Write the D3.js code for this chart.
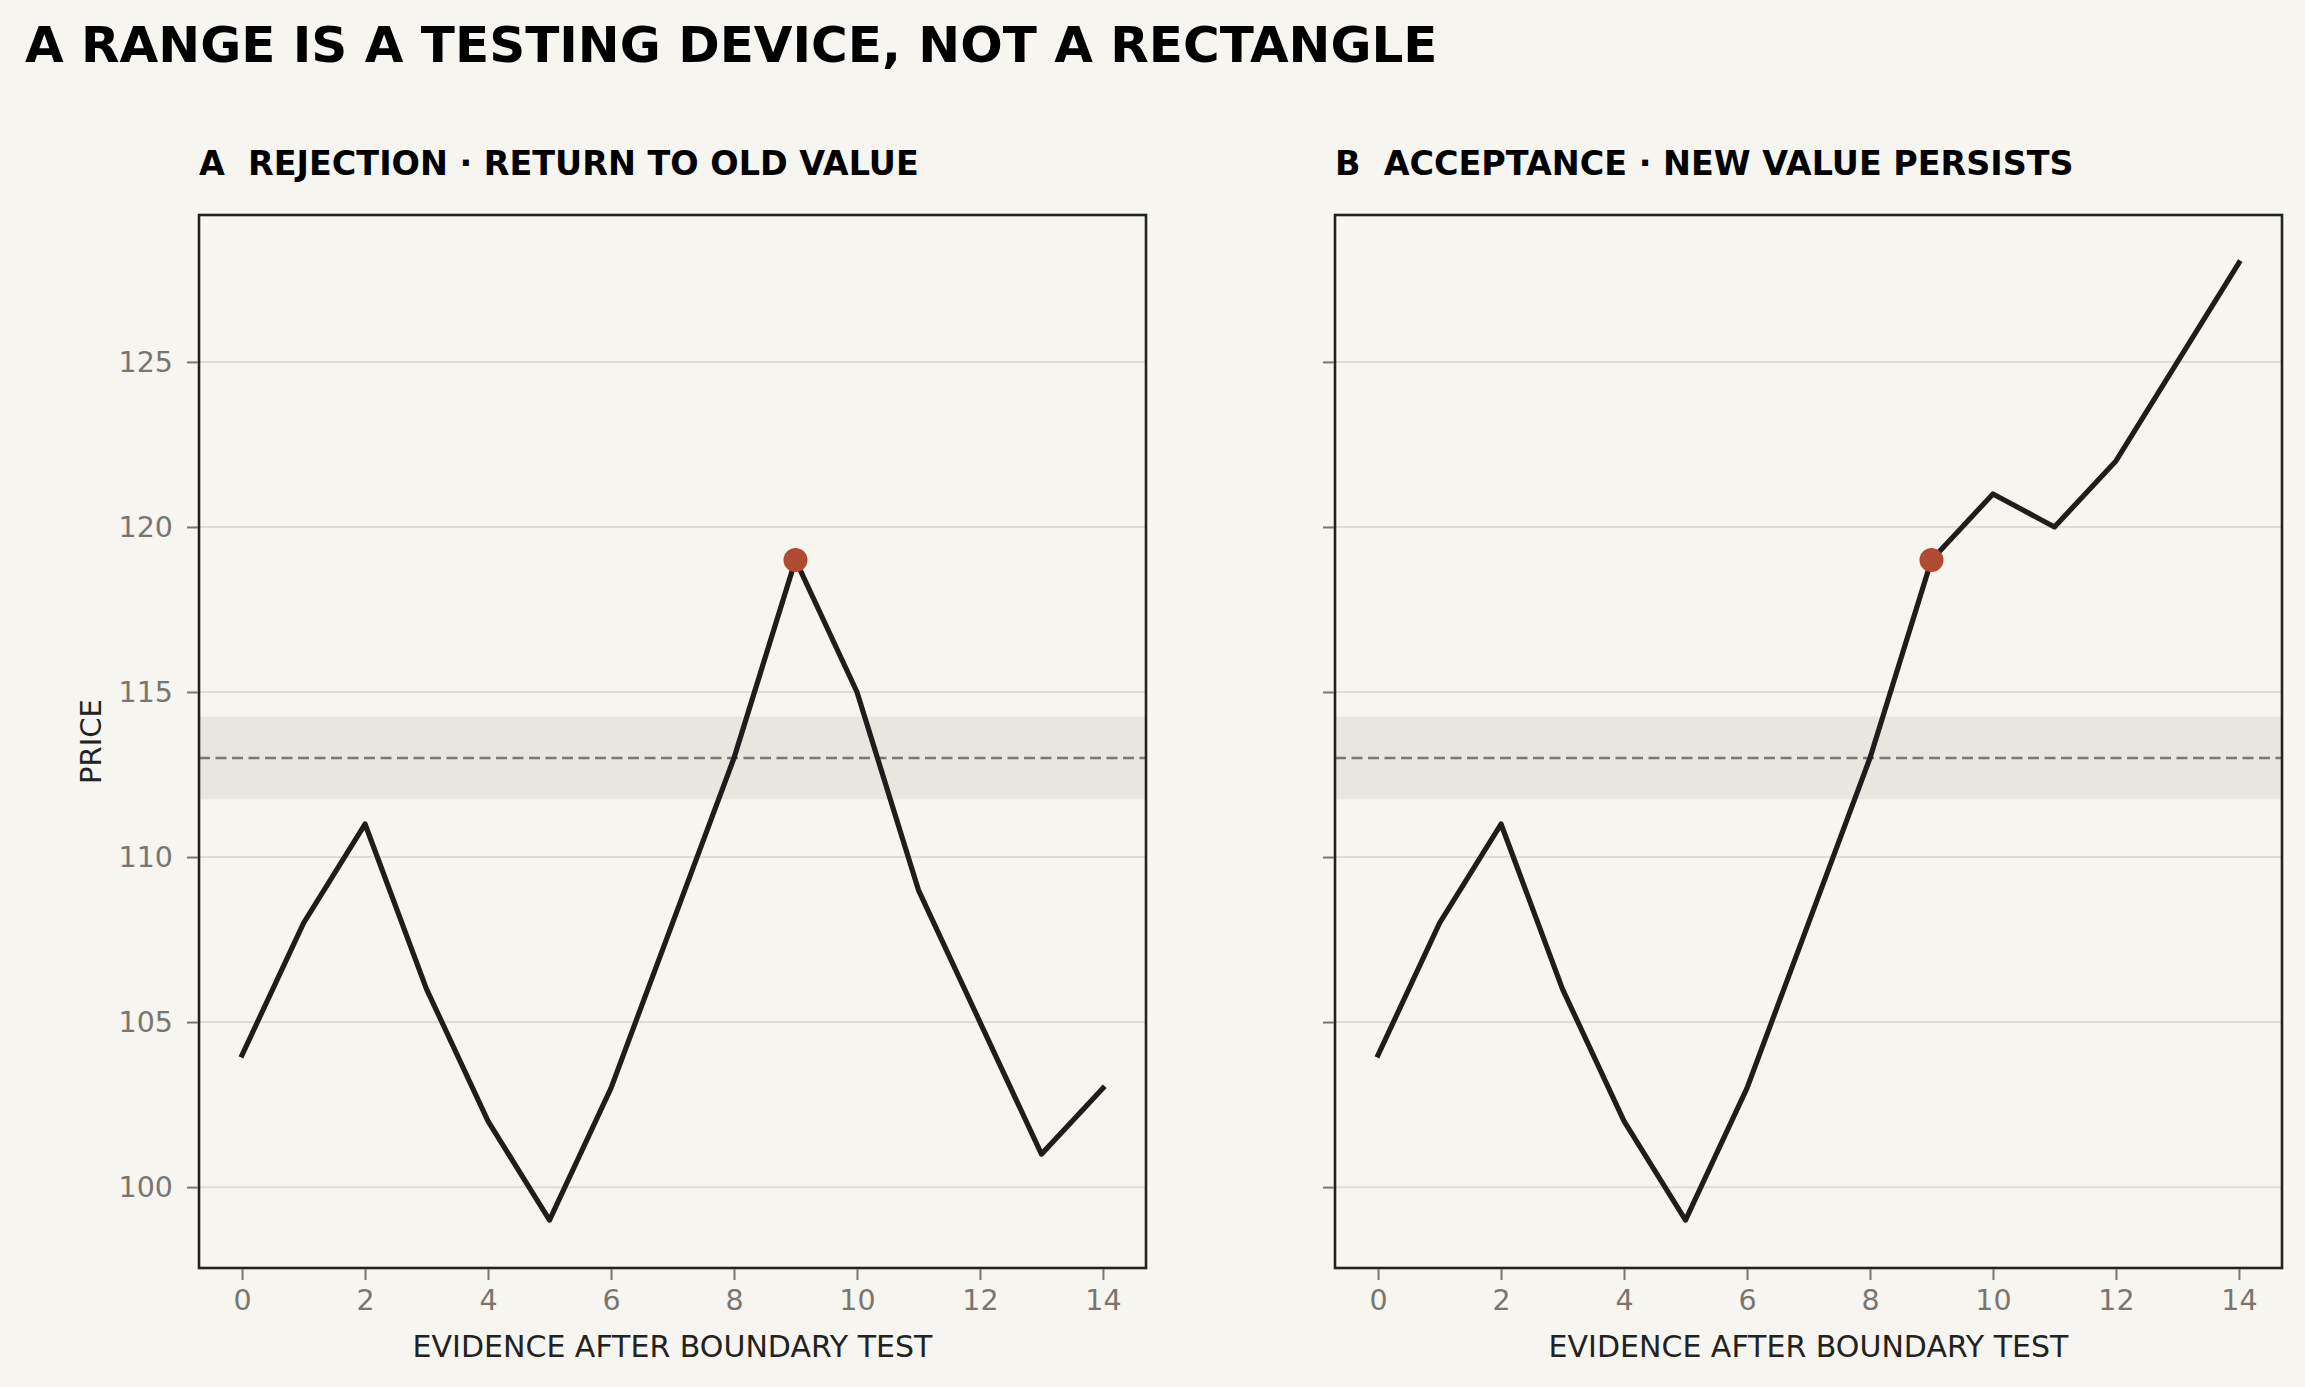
<!DOCTYPE html>
<html>
<head>
<meta charset="utf-8">
<script src="https://cdn.jsdelivr.net/npm/d3@7"></script>
<style>
  html, body { margin: 0; padding: 0; background: #f6f5f0; }
  svg { display: block; }
  text { font-family: "DejaVu Sans", sans-serif; white-space: pre; }
</style>
</head>
<body>
<svg id="chart" width="2305" height="1387"></svg>
<script>
// ---- data ----
const steps = [0, 1, 2, 3, 4, 5, 6, 7, 8, 9, 10, 11, 12, 13, 14];
const rejectionPrice = [104, 108, 111, 106, 102, 99, 103, 108, 113, 119, 115, 109, 105, 101, 103];
const acceptancePrice = [104, 108, 111, 106, 102, 99, 103, 108, 113, 119, 121, 120, 122, 125, 128];
const testStep = 9;
const boundaryLevel = 113;
const bandLow = 111.75;
const bandHigh = 114.25;
const xTicks = [0, 2, 4, 6, 8, 10, 12, 14];
const yTicks = [100, 105, 110, 115, 120, 125];
const panelTitles = ["A  REJECTION \u00b7 RETURN TO OLD VALUE", "B  ACCEPTANCE \u00b7 NEW VALUE PERSISTS"];
const mainTitle = "A RANGE IS A TESTING DEVICE, NOT A RECTANGLE";
const xLabel = "EVIDENCE AFTER BOUNDARY TEST";
const yLabel = "PRICE";

// ---- layout ----
const svg = d3.select("#chart");
const W = 2305, H = 1387;
const plotTop = 215, plotBottom = 1268;
const panelLefts = [199, 1335];
const panelWidth = 947;

const colors = {
  bg: "#f6f5f0", band: "#e9e5df", grid: "#dedcd7", frame: "#222220",
  line: "#1f1d1b", dash: "#7a7774", tick: "#7a7571", label: "#222", dot: "#b04b30"
};

svg.append("rect").attr("width", W).attr("height", H).attr("fill", colors.bg);

svg.append("text")
  .attr("x", 25).attr("y", 62)
  .attr("font-size", 50).attr("font-weight", "bold").attr("fill", "#000")
  .text(mainTitle);

// shared y scale
const yMin = 97.55, yMax = 129.45;
const y = d3.scaleLinear().domain([yMin, yMax]).range([plotBottom, plotTop]);

function drawPanel(i, series, showYLabels) {
  const left = panelLefts[i], right = left + panelWidth;
  const x = d3.scaleLinear().domain([-0.7, 14.7]).range([left, right]);
  const g = svg.append("g");

  // grid
  g.append("g").selectAll("line").data(yTicks).join("line")
    .attr("x1", left).attr("x2", right)
    .attr("y1", d => y(d)).attr("y2", d => y(d))
    .attr("stroke", colors.grid).attr("stroke-width", 2);

  // band
  g.append("rect")
    .attr("x", left).attr("width", panelWidth)
    .attr("y", y(bandHigh)).attr("height", y(bandLow) - y(bandHigh))
    .attr("fill", colors.band);

  // dashed boundary
  g.append("line")
    .attr("x1", left).attr("x2", right)
    .attr("y1", y(boundaryLevel)).attr("y2", y(boundaryLevel))
    .attr("stroke", colors.dash).attr("stroke-width", 2.6)
    .attr("stroke-dasharray", "11,5.5");

  // price line
  const line = d3.line().x((d, k) => x(steps[k])).y(d => y(d));
  g.append("path").datum(series)
    .attr("d", line)
    .attr("fill", "none").attr("stroke", colors.line)
    .attr("stroke-width", 5.2).attr("stroke-linejoin", "round").attr("stroke-linecap", "square");

  // test dot
  const ti = steps.indexOf(testStep);
  g.append("circle")
    .attr("cx", x(steps[ti])).attr("cy", y(series[ti])).attr("r", 12)
    .attr("fill", colors.dot);

  // frame
  g.append("rect")
    .attr("x", left).attr("y", plotTop)
    .attr("width", panelWidth).attr("height", plotBottom - plotTop)
    .attr("fill", "none").attr("stroke", colors.frame).attr("stroke-width", 2.6);

  // x axis
  const xAxis = d3.axisBottom(x).tickValues(xTicks).tickSize(11).tickPadding(10).tickFormat(d3.format("d"));
  const xa = g.append("g").attr("transform", `translate(0,${plotBottom + 1})`).call(xAxis);
  xa.select(".domain").remove();
  xa.selectAll(".tick line").attr("stroke", colors.tick).attr("stroke-width", 2);
  xa.selectAll(".tick text").attr("fill", colors.tick).attr("font-size", 28.5)
    .attr("font-family", "DejaVu Sans");

  // y axis
  const yAxis = d3.axisLeft(y).tickValues(yTicks).tickSize(11).tickPadding(14)
    .tickFormat(showYLabels ? d3.format("d") : () => "");
  const ya = g.append("g").attr("transform", `translate(${left - 1},0)`).call(yAxis);
  ya.select(".domain").remove();
  ya.selectAll(".tick line").attr("stroke", colors.tick).attr("stroke-width", 2);
  ya.selectAll(".tick text").attr("fill", colors.tick).attr("font-size", 28.5)
    .attr("font-family", "DejaVu Sans");

  // x label
  g.append("text")
    .attr("x", (left + right) / 2).attr("y", 1357)
    .attr("text-anchor", "middle").attr("font-size", 30).attr("fill", colors.label)
    .text(xLabel);

  // panel title
  g.append("text")
    .attr("x", left).attr("y", 175)
    .attr("font-size", 33.4).attr("font-weight", "bold").attr("fill", "#000")
    .text(panelTitles[i]);

  if (showYLabels) {
    g.append("text")
      .attr("transform", `translate(101,${(plotTop + plotBottom) / 2}) rotate(-90)`)
      .attr("text-anchor", "middle").attr("font-size", 29).attr("fill", colors.label)
      .text(yLabel);
  }
}

drawPanel(0, rejectionPrice, true);
drawPanel(1, acceptancePrice, false);
</script>
</body>
</html>
